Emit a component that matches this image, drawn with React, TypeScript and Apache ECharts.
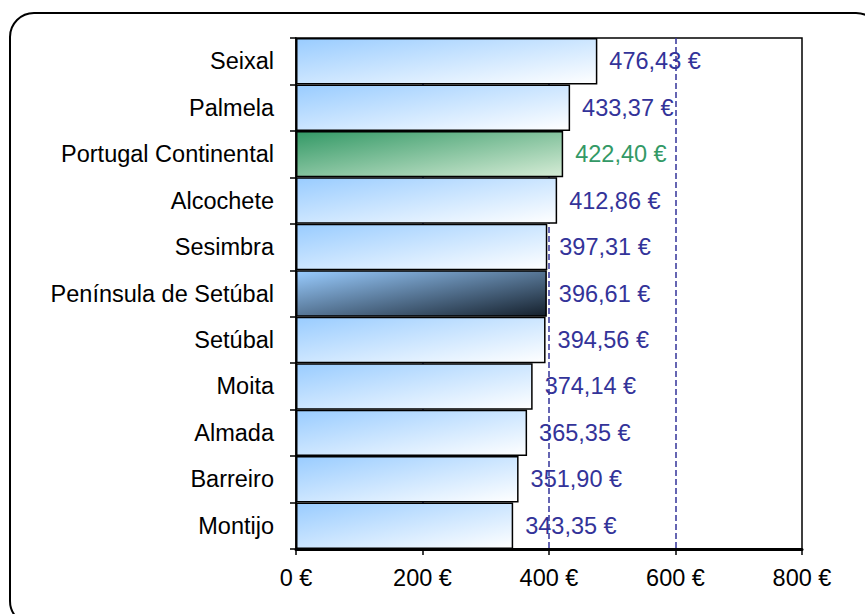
import React, { useEffect, useRef } from "react";
import * as echarts from "echarts";

const categories = [
  "Seixal",
  "Palmela",
  "Portugal Continental",
  "Alcochete",
  "Sesimbra",
  "Península de Setúbal",
  "Setúbal",
  "Moita",
  "Almada",
  "Barreiro",
  "Montijo",
];
const values = [476.43, 433.37, 422.4, 412.86, 397.31, 396.61, 394.56, 374.14, 365.35, 351.9, 343.35];
const xTicks = [0, 200, 400, 600, 800];
const highlightGreen = "Portugal Continental";
const highlightDark = "Península de Setúbal";

const FONT = "'Liberation Sans', Arial, sans-serif";

function grad(c1: string, c2: string) {
  return new echarts.graphic.LinearGradient(0, 0, 1, 1, [
    { offset: 0, color: c1 },
    { offset: 1, color: c2 },
  ]);
}

export default function App() {
  const ref = useRef<HTMLDivElement>(null);
  useEffect(() => {
    if (!ref.current) return;
    const chart = echarts.init(ref.current, undefined, { renderer: "svg" });
    const data = categories.map((c, i) => {
      let color: any = grad("#99CCFF", "#FFFFFF");
      let labelColor = "#333399";
      if (c === highlightGreen) {
        color = grad("#339966", "#D6ECD6");
        labelColor = "#339966";
      } else if (c === highlightDark) {
        color = grad("#99CCFF", "#15202C");
      }
      return {
        value: values[i],
        itemStyle: { color },
        label: { color: labelColor },
      };
    });
    chart.setOption({
      animation: false,
      backgroundColor: "#fff",
      textStyle: { fontFamily: FONT },
      graphic: [
        {
          type: "rect",
          z: -10,
          shape: { x: 10, y: 13, width: 870, height: 612, r: 24 },
          style: { fill: "none", stroke: "#000", lineWidth: 2 },
        },
      ],
      grid: {
        left: 296,
        right: 63,
        top: 38,
        bottom: 65,
        show: true,
        borderColor: "#000",
        borderWidth: 1.5,
        backgroundColor: "transparent",
      },
      xAxis: {
        type: "value",
        min: xTicks[0],
        max: xTicks[xTicks.length - 1],
        interval: 200,
        axisLine: { show: true, lineStyle: { color: "#000", width: 3 } },
        axisTick: { show: true, length: 6, lineStyle: { color: "#000", width: 1.5 } },
        axisLabel: {
          color: "#000",
          fontSize: 23.5,
          fontFamily: FONT,
          margin: 17,
          formatter: (v: number) => `${v} €`,
        },
        splitLine: {
          show: true,
          showMinLine: false,
          showMaxLine: false,
          lineStyle: { color: "#333399", type: [6, 3], width: 1.5 },
        },
      },
      yAxis: {
        type: "category",
        inverse: true,
        data: categories,
        axisLine: { show: true, lineStyle: { color: "#000", width: 1.5 } },
        axisTick: { show: true, length: 6, lineStyle: { color: "#000", width: 1.5 } },
        axisLabel: {
          color: "#000",
          fontSize: 23.5,
          fontFamily: FONT,
          margin: 22,
        },
        splitLine: { show: false },
      },
      series: [
        {
          type: "bar",
          data,
          barCategoryGap: "0%",
          itemStyle: { borderColor: "#000", borderWidth: 1.5 },
          label: {
            show: true,
            position: "right",
            distance: 12,
            fontSize: 23.5,
            fontFamily: FONT,
            formatter: (p: any) => `${p.value.toFixed(2).replace(".", ",")} €`,
          },
        },
      ],
    });
    return () => chart.dispose();
  }, []);
  return (
    <div
      ref={ref}
      style={{ position: "absolute", left: 0, top: 0, width: 865, height: 614 }}
    />
  );
}
